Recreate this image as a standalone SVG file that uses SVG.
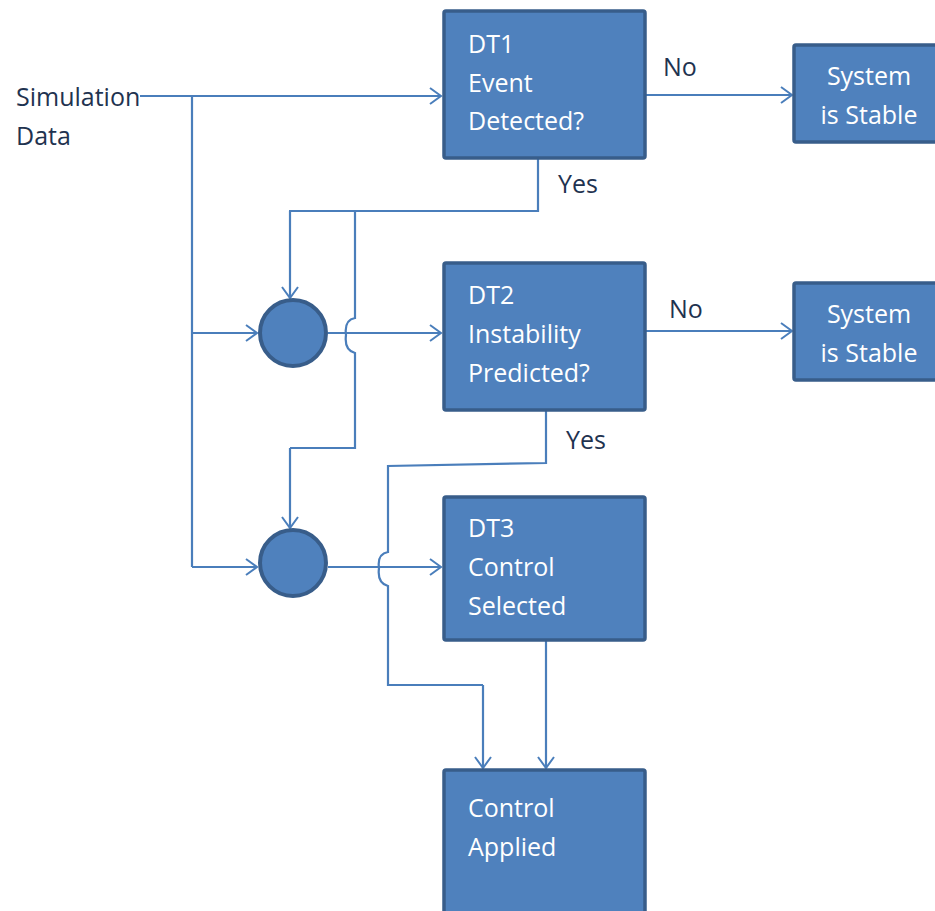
<svg xmlns="http://www.w3.org/2000/svg" width="935" height="911" viewBox="0 0 935 911">
<defs>
<marker id="arr" markerWidth="14" markerHeight="18" refX="12" refY="9" orient="auto" markerUnits="userSpaceOnUse">
<path d="M1,1 L12,9 L1,17" fill="none" stroke="#4a7ebb" stroke-width="2"/>
</marker>
<style>
.box{fill:#4f81bd;stroke:#385d8a;stroke-width:3.5}
.node{fill:#4f81bd;stroke:#385d8a;stroke-width:4}
.in{font-family:"Open Sans","Noto Sans",sans-serif;font-size:25px;fill:#ffffff}
.out{font-family:"Open Sans","Noto Sans",sans-serif;font-size:25px;fill:#1f3350}
.ln{fill:none;stroke:#4a7ebb;stroke-width:2.2}
.arw{marker-end:url(#arr)}
</style>
</defs>
<rect width="935" height="911" fill="#ffffff"/>
<g id="connectors">
<path class="ln arw" d="M140,96 L441,96"/>
<path class="ln" d="M192,96 L192,567"/>
<path class="ln arw" d="M192,333 L257,333"/>
<path class="ln arw" d="M192,567 L257,567"/>
<path class="ln arw" d="M645,95 L792,95"/>
<path class="ln arw" d="M645,331 L792,331"/>
<path class="ln" d="M538,159 L538,211 L289,211"/>
<path class="ln arw" d="M290,211 L290,298"/>
<path class="ln" d="M355,211 L355,318 Q344,320 346,335 Q344,350 355,353 L355,448 L290,448"/>
<path class="ln arw" d="M290,448 L290,528"/>
<path class="ln arw" d="M328,333 L441,333"/>
<path class="ln arw" d="M328,567 L441,567"/>
<path class="ln" d="M546,410 L546,463 L388,466 L388,552 Q377,554 379,568 Q377,583 388,586 L388,685 L483,685"/>
<path class="ln arw" d="M483,685 L483,768"/>
<path class="ln arw" d="M546,640 L546,768"/>
</g>
<g id="input">
<text class="out" x="16" y="106">Simulation</text>
<text class="out" x="16" y="145">Data</text>
</g>
<g id="dt1">
<rect class="box" x="444" y="11" width="201" height="147" rx="2"/>
<text class="in" x="468" y="53">DT1</text>
<text class="in" x="468" y="92">Event</text>
<text class="in" x="468" y="130">Detected?</text>
</g>
<g id="stable1">
<rect class="box" x="794" y="45" width="150" height="97" rx="2"/>
<text class="in" x="869" y="85" text-anchor="middle">System</text>
<text class="in" x="869" y="124" text-anchor="middle">is Stable</text>
</g>
<g id="label-no1"><text class="out" x="663" y="76">No</text></g>
<g id="label-yes1"><text class="out" x="558" y="193">Yes</text></g>
<g id="merge1"><circle class="node" cx="293" cy="333" r="33"/></g>
<g id="dt2">
<rect class="box" x="444" y="263" width="201" height="147" rx="2"/>
<text class="in" x="468" y="304">DT2</text>
<text class="in" x="468" y="343">Instability</text>
<text class="in" x="468" y="382">Predicted?</text>
</g>
<g id="stable2">
<rect class="box" x="794" y="283" width="150" height="97" rx="2"/>
<text class="in" x="869" y="323" text-anchor="middle">System</text>
<text class="in" x="869" y="362" text-anchor="middle">is Stable</text>
</g>
<g id="label-no2"><text class="out" x="669" y="318">No</text></g>
<g id="label-yes2"><text class="out" x="566" y="449">Yes</text></g>
<g id="merge2"><circle class="node" cx="293" cy="563" r="33"/></g>
<g id="dt3">
<rect class="box" x="444" y="497" width="201" height="143" rx="2"/>
<text class="in" x="468" y="537">DT3</text>
<text class="in" x="468" y="576">Control</text>
<text class="in" x="468" y="615">Selected</text>
</g>
<g id="applied">
<rect class="box" x="444" y="770" width="201" height="160" rx="2"/>
<text class="in" x="468" y="817">Control</text>
<text class="in" x="468" y="856">Applied</text>
</g>
</svg>
